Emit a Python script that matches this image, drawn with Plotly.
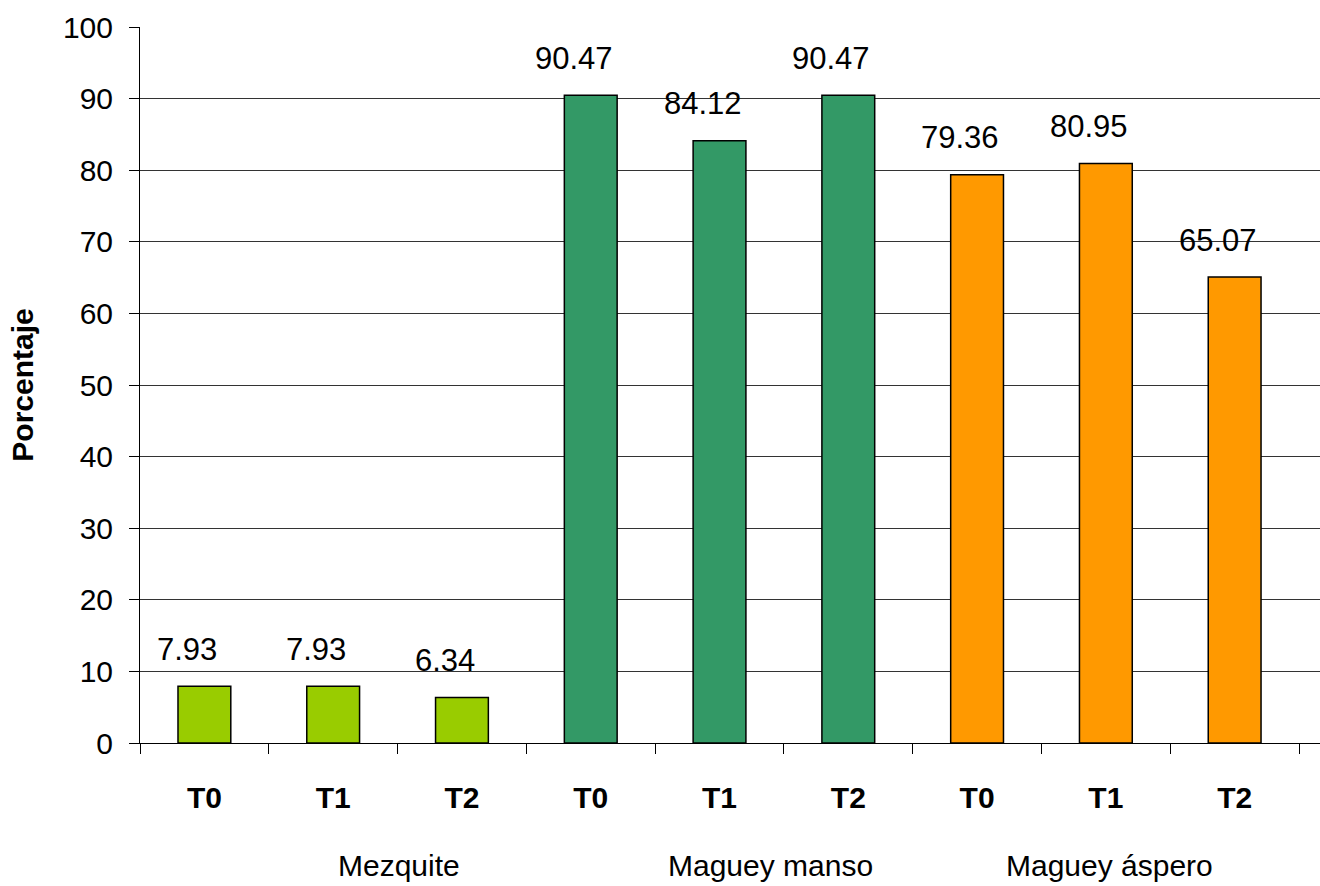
import plotly.graph_objects as go

# Data
groups = ["Mezquite", "Maguey manso", "Maguey áspero"]
treatments = ["T0", "T1", "T2"]
mezquite = [7.93, 7.93, 6.34]
maguey_manso = [90.47, 84.12, 90.47]
maguey_aspero = [79.36, 80.95, 65.07]
group_colors = ["#99CC00", "#339966", "#FF9900"]
y_ticks = list(range(0, 101, 10))

FONT = "Arial, 'Liberation Sans', sans-serif"
FS = 30

series = [mezquite, maguey_manso, maguey_aspero]
values, colors, labels = [], [], []
for g, vals in enumerate(series):
    for t, v in enumerate(vals):
        values.append(v)
        colors.append(group_colors[g])
        labels.append(treatments[t])
xs = list(range(len(values)))

fig = go.Figure()
fig.add_trace(go.Bar(
    x=xs, y=values,
    marker=dict(color=colors, line=dict(color="#000000", width=1.5)),
    width=0.41,
    hoverinfo="x+y",
    showlegend=False,
))

# Value labels above each bar, set slightly to the left of the bar centre
for x, v in zip(xs, values):
    fig.add_annotation(
        x=x, y=v, xref="x", yref="y",
        text=f"{v:.2f}", showarrow=False,
        xanchor="center", yanchor="middle", yshift=37, xshift=-17,
        font=dict(family=FONT, size=31, color="#000000"),
    )

# Group names below the treatment labels
group_x_px = [399, 770, 1109]
for name, px in zip(groups, group_x_px):
    fig.add_annotation(
        x=(px - 140) / (1320 - 140), y=0, xref="paper", yref="paper",
        text=name, showarrow=False,
        xanchor="center", yanchor="middle", yshift=-122,
        font=dict(family=FONT, size=FS, color="#000000"),
    )

fig.update_layout(
    width=1320, height=886,
    margin=dict(l=140, r=0, t=27, b=143),
    plot_bgcolor="#FFFFFF", paper_bgcolor="#FFFFFF",
    font=dict(family=FONT, size=FS, color="#000000"),
    xaxis=dict(
        range=[-0.5, 8.5 + 21 / 129],
        tickvals=xs, ticktext=[f"<b>{t}</b>" for t in labels],
        ticks="", ticklen=0,
        ticklabelstandoff=28,
        showgrid=False, zeroline=False,
        showline=True, linecolor="#000000", linewidth=1,
        minor=dict(tickvals=[i - 0.5 for i in range(len(xs) + 1)],
                   ticks="outside", ticklen=10, tickcolor="#000000", tickwidth=1,
                   showgrid=False),
        tickfont=dict(family=FONT, size=FS, color="#000000"),
        fixedrange=True,
    ),
    yaxis=dict(
        range=[0, 100], tickvals=y_ticks,
        ticks="outside", ticklen=10, tickcolor="#000000", tickwidth=1,
        ticklabelstandoff=10,
        showgrid=True, gridcolor="#333333", gridwidth=1,
        zeroline=False,
        showline=True, linecolor="#000000", linewidth=1,
        tickfont=dict(family=FONT, size=FS, color="#000000"),
        title=dict(text="<b>Porcentaje</b>", font=dict(family=FONT, size=FS), standoff=20),
        fixedrange=True,
    ),
)

fig.write_html("out.html")
